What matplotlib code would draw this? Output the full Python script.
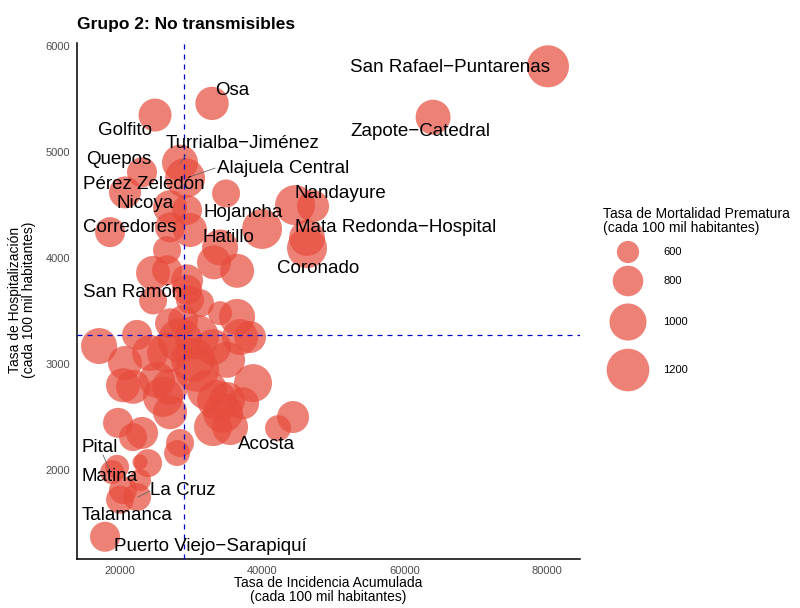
import numpy as np
import matplotlib
matplotlib.use("Agg")
import matplotlib.pyplot as plt

plt.rcParams['font.family'] = ['Liberation Sans', 'DejaVu Sans']

# incidencia acumulada, hospitalizacion, mortalidad prematura, nombre
incidencia = [80150, 64000, 32930, 24920, 28430, 29140, 23090, 20700, 27030, 18600,
              34900, 34060, 47130, 46280, 46280, 24640, 18880, 20000, 22390, 20420,
              17890, 35460,
              44600, 39960, 36450, 33210, 17050, 22390, 20700, 20420, 21830, 19720,
              21830, 23090, 22810, 23940, 28430, 28010, 27030, 26040, 27030, 26610,
              24220, 25200, 28430, 30820, 30260, 30820, 32230, 33630, 33070, 34480,
              35040, 37290, 38690, 36450, 36870, 38270, 34060, 33070, 28860, 27030,
              29840, 44320, 42210, 29420, 31240, 27030, 29840, 26610, 26610, 24640,
              29420, 29420, 19580, 22810, 35040]
hospitalizacion = [5810, 5330, 5460, 5350, 4900, 4755, 4810, 4620, 4480, 4245,
                   4610, 4100, 4490, 4190, 4095, 3600, 1980, 1720, 1745, 1810,
                   1370, 2405,
                   4500, 4275, 3880, 3960, 3170, 3275, 3010, 2800, 2785, 2445,
                   2310, 2350, 2075, 2065, 2255, 2160, 2545, 2690, 2785, 3105,
                   3105, 2850, 3225, 3255, 3040, 2945, 2755, 2660, 2405, 2540,
                   2660, 2630, 2820, 3445, 3255, 3255, 3480, 3160, 3415, 3385,
                   3605, 2500, 2395, 3700, 3575, 4290, 4265, 4075, 3885, 3860,
                   3790, 4455, 2030, 1905, 3040]
mortalidad = [1177, 930, 880, 870, 964, 1102, 784, 840, 900, 784,
              731, 964, 840, 964, 1102, 731, 637, 731, 731, 731,
              784, 964,
              1102, 1102, 900, 900, 964, 784, 900, 900, 900, 784,
              731, 840, 480, 731, 731, 682, 900, 1102, 964, 1102,
              964, 964, 1255, 1255, 1255, 1255, 1102, 1102, 1031, 1102,
              964, 840, 1031, 964, 964, 840, 637, 964, 784, 784,
              731, 840, 682, 784, 731, 784, 900, 731, 784, 900,
              840, 784, 637, 595, 964]
nombres = ["San Rafael\u2212Puntarenas", "Zapote\u2212Catedral", "Osa", "Golfito",
           "Turrialba\u2212Jiménez", "Alajuela Central", "Quepos", "Pérez Zeledón",
           "Nicoya", "Corredores", "Hojancha", "Hatillo", "Nandayure",
           "Mata Redonda\u2212Hospital", "Coronado", "San Ramón", "Pital", "Matina",
           "La Cruz", "Talamanca", "Puerto Viejo\u2212Sarapiquí", "Acosta"]

media_incidencia = 29000
media_hospitalizacion = 3275
legend_vals = [600, 800, 1000, 1200]

# label positions (ggrepel result), data coords
label_pos = {
    "San Rafael\u2212Puntarenas": (66380, 5802),
    "Zapote\u2212Catedral": (62170, 5198),
    "Osa": (35740, 5585),
    "Golfito": (20700, 5208),
    "Turrialba\u2212Jiménez": (37150, 5085),
    "Alajuela Central": (42910, 4849),
    "Quepos": (19860, 4934),
    "Pérez Zeledón": (23370, 4698),
    "Nicoya": (23510, 4519),
    "Corredores": (21400, 4292),
    "Hojancha": (37290, 4434),
    "Hatillo": (35180, 4198),
    "Nandayure": (50920, 4613),
    "Mata Redonda\u2212Hospital": (58790, 4292),
    "Coronado": (47830, 3906),
    "San Ramón": (21830, 3679),
    "Pital": (17190, 2217),
    "Matina": (18600, 1943),
    "La Cruz": (28860, 1802),
    "Talamanca": (20990, 1566),
    "Puerto Viejo\u2212Sarapiquí": (32650, 1274),
    "Acosta": (40520, 2245),
}
segments = [
    ((29280, 4972), (28430, 4896)),
    ((33350, 4849), (30120, 4774)),
    ((17610, 2142), (18600, 1990)),
    ((24220, 1802), (22530, 1745)),
]

DPI = 100
COLOR = '#E74C3C'


def size_pts(v):
    # area linear in value, radius in px -> marker area in pt^2
    r_px = np.sqrt(0.55 * (np.asarray(v, dtype=float) - 375))
    return (2 * r_px * 72 / DPI) ** 2


fig = plt.figure(figsize=(8, 6.08), dpi=DPI)
ax = fig.add_axes([77 / 800, 49 / 608, 503 / 800, 516 / 608])

ax.scatter(incidencia, hospitalizacion, s=size_pts(mortalidad), color=COLOR,
           alpha=0.7, linewidths=0, zorder=2)
ax.axvline(media_incidencia, color='#0000CC', lw=0.9, ls=(0, (4, 4)), zorder=3)
ax.axhline(media_hospitalizacion, color='#0000CC', lw=0.9, ls=(0, (4, 4)), zorder=3)

for (x0, y0), (x1, y1) in segments:
    ax.plot([x0, x1], [y0, y1], color='#666666', lw=0.6, zorder=4)
for name in nombres:
    lx, ly = label_pos[name]
    ax.text(lx, ly, name, ha='center', va='center', fontsize=13.5, zorder=5)

ax.set_xlim(13950, 84650)
ax.set_ylim(1160, 6030)
ax.set_xticks([20000, 40000, 60000, 80000])
ax.set_yticks([2000, 3000, 4000, 5000, 6000])
ax.tick_params(length=0, labelsize=8, labelcolor='#4D4D4D', pad=5)
for s in ['top', 'right']:
    ax.spines[s].set_visible(False)
for s in ['left', 'bottom']:
    ax.spines[s].set_linewidth(1.1)

fig.text(77 / 800, 1 - 24 / 608, "Grupo 2: No transmisibles", fontsize=12.5,
         fontweight='bold', ha='left', va='center')
fig.text(328 / 800, 1 - 590 / 608,
         "Tasa de Incidencia Acumulada\n(cada 100 mil habitantes)",
         ha='center', va='center', fontsize=10, linespacing=0.95)
fig.text(22 / 800, 1 - 300 / 608,
         "Tasa de Hospitalización\n(cada 100 mil habitantes)",
         ha='center', va='center', rotation=90, fontsize=10, linespacing=0.95)

# legend
lax = fig.add_axes([0, 0, 1, 1])
lax.set_xlim(0, 800)
lax.set_ylim(608, 0)
lax.axis('off')
lax.text(603, 221, "Tasa de Mortalidad Prematura\n(cada 100 mil habitantes)",
         ha='left', va='center', fontsize=10, linespacing=0.95)
key_y = [252, 281, 322, 370]
lax.scatter([628] * len(legend_vals), key_y, s=size_pts(legend_vals), color=COLOR,
            alpha=0.7, linewidths=0)
for yy, v in zip(key_y, legend_vals):
    lax.text(663, yy, str(v), ha='left', va='center', fontsize=8)

fig.savefig("out.png", dpi=DPI)
